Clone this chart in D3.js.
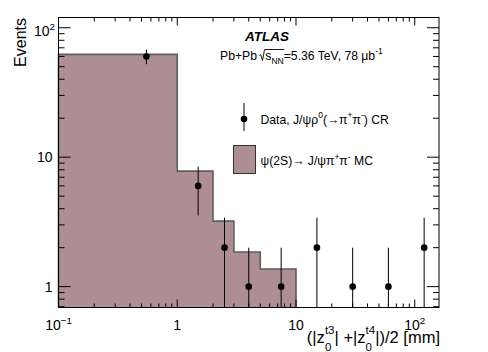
<!DOCTYPE html>
<html><head><meta charset="utf-8">
<script src="https://cdn.jsdelivr.net/npm/d3@7"></script>
<style>body{margin:0;background:#fff}svg{display:block}text{font-family:"Liberation Sans",Arial,Helvetica,sans-serif}</style>
</head><body><svg id="c" width="488" height="352"></svg>
<script>
// ---- data ----
const binEdges = [0.1, 1, 2, 3, 5, 10, 20, 40, 80, 160];
const mcCounts = [62.3, 7.8, 3.21, 1.85, 1.37, 0, 0, 0, 0];
const dataX = [0.55, 1.5, 2.5, 4, 7.5, 15, 30, 60, 120];
const dataY = [60, 6, 2, 1, 1, 2, 1, 1, 2];
const dataErr = [7.75, 2.45, 1.41, 1, 1, 1.41, 1, 1, 1.41];
const xTickValues = [0.1, 1, 10, 100];
const xTickLabels = [["10", "\u22121"], ["1", ""], ["10", ""], ["10", "2"]];
const yTickValues = [1, 10, 100];
const yTickLabels = [["1", ""], ["10", ""], ["10", "2"]];
const xDomain = [0.1, 160];
const yDomain = [0.69, 120];

// ---- style ----
const MC_FILL = "#ad8e92", MC_LINE = "#5e5e5e";
const L = 58.5, R = 439, T = 17.5, B = 307.5;

const svg = d3.select("#c");
const x = d3.scaleLog().domain(xDomain).range([L, R]);
const y = d3.scaleLog().domain(yDomain).range([B, T]);

function measure(str, fs) {
  const t = svg.append("text").attr("font-size", fs).text(str);
  const w = t.node().getComputedTextLength();
  t.remove();
  return w;
}
function rich(textSel, parts, fs, supOff = -0.42, subOff = 0.33) {
  let lvl = 0;
  parts.forEach(p => {
    const target = p.k === "sup" ? supOff * fs : p.k === "sub" ? subOff * fs : 0;
    const ts = textSel.append("tspan").text(p.t)
      .attr("dy", target - lvl)
      .attr("font-size", p.k === "n" ? fs : 0.7 * fs);
    if (p.dx) ts.attr("dx", p.dx);
    lvl = target;
  });
  return textSel;
}

// ---- MC histogram ----
let last = 0;
mcCounts.forEach((c, i) => { if (c > 0) last = i; });
const pts = [[x(binEdges[0]), B]];
for (let i = 0; i <= last; i++) {
  const yy = mcCounts[i] > 0 ? y(mcCounts[i]) : B;
  pts.push([x(binEdges[i]), yy]);
  pts.push([x(binEdges[i + 1]), yy]);
}
pts.push([x(binEdges[last + 1]), B]);
svg.append("path").attr("d", d3.line()(pts))
  .attr("fill", MC_FILL).attr("stroke", MC_LINE).attr("stroke-width", 1.6);

// ---- data points ----
const g = svg.append("g");
dataX.forEach((xv, i) => {
  const v = dataY[i], e = dataErr[i];
  const lo = Math.max(v - e, yDomain[0]);
  const hi = Math.min(v + e, yDomain[1]);
  g.append("line").attr("x1", x(xv)).attr("x2", x(xv))
    .attr("y1", y(lo)).attr("y2", y(hi)).attr("stroke", "#000").attr("stroke-width", 1);
  g.append("circle").attr("cx", x(xv)).attr("cy", y(v)).attr("r", 3.3).attr("fill", "#000");
});

// ---- frame & ticks ----
const isMajor = v => Math.abs(Math.log10(v) - Math.round(Math.log10(v))) < 1e-6;
svg.append("rect").attr("x", L).attr("y", T).attr("width", R - L).attr("height", B - T)
  .attr("fill", "none").attr("stroke", "#000").attr("stroke-width", 1);
const tk = svg.append("g").attr("stroke", "#000").attr("stroke-width", 1);
x.ticks().forEach(v => {
  const px = x(v), len = isMajor(v) ? 8 : 4;
  tk.append("line").attr("x1", px).attr("x2", px).attr("y1", B).attr("y2", B - len);
  tk.append("line").attr("x1", px).attr("x2", px).attr("y1", T).attr("y2", T + len);
});
y.ticks().forEach(v => {
  const py = y(v), len = isMajor(v) ? 12 : 6;
  tk.append("line").attr("x1", L).attr("x2", L + len).attr("y1", py).attr("y2", py);
  tk.append("line").attr("x1", R).attr("x2", R - len).attr("y1", py).attr("y2", py);
});

// ---- tick labels ----
const LFS = 14;
xTickValues.forEach((v, i) => {
  const [b, ex] = xTickLabels[i];
  const t = svg.append("text").attr("x", x(v)).attr("y", 329.5).attr("text-anchor", "middle").attr("font-size", LFS);
  const parts = [{ t: b, k: "n" }];
  if (ex) parts.push({ t: ex, k: "sup" });
  rich(t, parts, LFS);
});
yTickValues.forEach((v, i) => {
  const [b, ex] = yTickLabels[i];
  const t = svg.append("text").attr("x", ex ? 55 : 52.5).attr("y", y(v) + (ex ? 8 : 5))
    .attr("text-anchor", "end").attr("font-size", LFS);
  const parts = [{ t: b, k: "n" }];
  if (ex) parts.push({ t: ex, k: "sup" });
  rich(t, parts, LFS);
});

// ---- axis titles ----
svg.append("text").attr("transform", "translate(25.5,18) rotate(-90)")
  .attr("text-anchor", "end").attr("font-size", 16).text("Events");

const XFS = 16.5;
const wt3 = measure("t3", XFS * 0.7), wt4 = measure("t4", XFS * 0.7), w0 = measure("0", XFS * 0.7);
rich(svg.append("text").attr("x", 440).attr("y", 342.5).attr("text-anchor", "end").attr("font-size", XFS), [
  { t: "(|z", k: "n" }, { t: "t3", k: "sup" }, { t: "0", k: "sub", dx: -wt3 },
  { t: "| +|z", k: "n", dx: wt3 - w0 }, { t: "t4", k: "sup" }, { t: "0", k: "sub", dx: -wt4 },
  { t: "|)/2 [mm]", k: "n", dx: wt4 - w0 }
], XFS, -0.5, 0.5);

// ---- labels ----
svg.append("text").attr("x", 267).attr("y", 40.5).attr("text-anchor", "middle")
  .attr("font-size", 13.5).attr("font-weight", "bold").attr("font-style", "italic").text("ATLAS");

const TFS = 12.2;
const lumi = svg.append("text").attr("x", 220).attr("y", 59.5).attr("font-size", TFS);
rich(lumi, [{ t: "Pb+Pb ", k: "n" }, { t: "s", k: "n", dx: 5 }, { t: "NN", k: "sub" },
  { t: "=5.36 TeV, 78 \u03bcb", k: "n" }, { t: "-1", k: "sup" }], TFS);
{
  const node = lumi.node();
  const sIdx = "Pb+Pb ".length;
  const sx = node.getStartPositionOfChar(sIdx).x;
  const nEnd = node.getEndPositionOfChar(sIdx + 2).x;
  const base = 59.5;
  svg.append("path")
    .attr("d", `M${sx - 6},${base - 4} L${sx - 4.6},${base - 5} L${sx - 2.8},${base + 1} L${sx - 0.8},${base - 10} L${nEnd + 0.5},${base - 10}`)
    .attr("fill", "none").attr("stroke", "#000").attr("stroke-width", 0.9);
}

// ---- legend ----
svg.append("line").attr("x1", 244).attr("x2", 244).attr("y1", 103).attr("y2", 131).attr("stroke", "#000");
svg.append("circle").attr("cx", 244).attr("cy", 119).attr("r", 3.3).attr("fill", "#000");
rich(svg.append("text").attr("x", 260.5).attr("y", 123.5).attr("font-size", TFS), [
  { t: "Data, J/\u03c8\u03c1", k: "n" }, { t: "0", k: "sup" }, { t: "(\u2192\u03c0", k: "n" },
  { t: "+", k: "sup" }, { t: "\u03c0", k: "n" }, { t: "-", k: "sup" }, { t: ") CR", k: "n" }
], TFS);
svg.append("rect").attr("x", 233.5).attr("y", 145.5).attr("width", 22).attr("height", 28)
  .attr("fill", MC_FILL).attr("stroke", "#333").attr("stroke-width", 1);
rich(svg.append("text").attr("x", 260.5).attr("y", 165).attr("font-size", TFS), [
  { t: "\u03c8(2S)\u2192 J/\u03c8\u03c0", k: "n" }, { t: "+", k: "sup" }, { t: "\u03c0", k: "n" },
  { t: "-", k: "sup" }, { t: " MC", k: "n" }
], TFS);
</script></body></html>
